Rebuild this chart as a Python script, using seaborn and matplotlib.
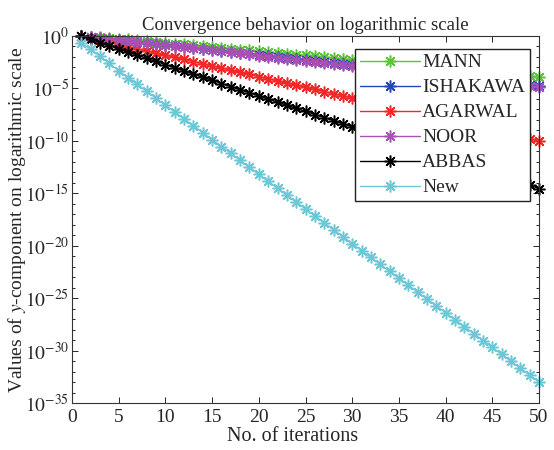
import matplotlib
matplotlib.use("Agg")
import matplotlib.pyplot as plt
import seaborn as sns
import numpy as np
import pandas as pd

iterations = list(range(1, 51))

# log10 of the y-component
mann_log = [0.00, -0.06, -0.12, -0.19, -0.26, -0.33, -0.41, -0.49, -0.57, -0.65,
            -0.73, -0.81, -0.89, -0.97, -1.05, -1.13, -1.21, -1.29, -1.37, -1.45,
            -1.53, -1.61, -1.69, -1.77, -1.85, -1.93, -2.01, -2.09, -2.17, -2.25,
            -2.33, -2.41, -2.49, -2.57, -2.65, -2.73, -2.81, -2.89, -2.97, -3.05,
            -3.14, -3.22, -3.31, -3.39, -3.48, -3.56, -3.65, -3.73, -3.81, -3.90]
ishakawa_log = [-0.02, -0.10, -0.19, -0.28, -0.37, -0.47, -0.56, -0.66, -0.75, -0.85,
                -0.94, -1.04, -1.13, -1.23, -1.32, -1.42, -1.51, -1.61, -1.70, -1.80,
                -1.89, -1.99, -2.08, -2.18, -2.27, -2.37, -2.46, -2.56, -2.65, -2.75,
                -2.84, -2.94, -3.03, -3.13, -3.22, -3.32, -3.41, -3.51, -3.60, -3.70,
                -3.80, -3.90, -4.00, -4.10, -4.20, -4.31, -4.42, -4.53, -4.64, -4.75]
agarwal_log = [0.00, -0.20, -0.41, -0.61, -0.82, -1.02, -1.22, -1.43, -1.63, -1.84,
               -2.04, -2.24, -2.45, -2.65, -2.86, -3.06, -3.27, -3.47, -3.67, -3.88,
               -4.08, -4.29, -4.49, -4.69, -4.90, -5.10, -5.31, -5.51, -5.71, -5.92,
               -6.12, -6.33, -6.53, -6.73, -6.94, -7.14, -7.35, -7.55, -7.76, -7.96,
               -8.16, -8.37, -8.57, -8.78, -8.98, -9.18, -9.39, -9.59, -9.80, -10.00]
noor_log = [0.00, -0.08, -0.17, -0.26, -0.36, -0.46, -0.56, -0.66, -0.76, -0.86,
            -0.96, -1.06, -1.16, -1.26, -1.36, -1.46, -1.56, -1.66, -1.76, -1.86,
            -1.96, -2.06, -2.16, -2.26, -2.36, -2.46, -2.56, -2.66, -2.76, -2.86,
            -2.96, -3.06, -3.16, -3.26, -3.36, -3.46, -3.56, -3.66, -3.76, -3.86,
            -3.96, -4.06, -4.16, -4.26, -4.36, -4.46, -4.56, -4.66, -4.77, -4.88]
abbas_log = [0.00, -0.31, -0.62, -0.92, -1.23, -1.53, -1.83, -2.13, -2.43, -2.73,
             -3.03, -3.33, -3.63, -3.93, -4.23, -4.53, -4.83, -5.12, -5.42, -5.72,
             -6.01, -6.31, -6.60, -6.90, -7.19, -7.49, -7.78, -8.08, -8.37, -8.66,
             -8.96, -9.25, -9.55, -9.84, -10.13, -10.43, -10.72, -11.01, -11.31, -11.60,
             -11.89, -12.19, -12.48, -12.77, -13.07, -13.36, -13.65, -13.95, -14.24, -14.55]
new_log = [-0.70, -1.25, -1.95, -2.62, -3.32, -3.98, -4.62, -5.28, -5.94, -6.62,
           -7.24, -7.90, -8.56, -9.22, -9.88, -10.54, -11.20, -11.86, -12.52, -13.20,
           -13.86, -14.52, -15.18, -15.84, -16.50, -17.16, -17.82, -18.48, -19.14, -19.80,
           -20.46, -21.12, -21.78, -22.44, -23.10, -23.76, -24.42, -25.08, -25.74, -26.40,
           -27.06, -27.72, -28.38, -29.04, -29.70, -30.36, -31.02, -31.68, -32.34, -33.00]

methods = ["MANN", "ISHAKAWA", "AGARWAL", "NOOR", "ABBAS", "New"]
series = [mann_log, ishakawa_log, agarwal_log, noor_log, abbas_log, new_log]
colors = ["#5cc43a", "#2346b8", "#f02828", "#a94fb5", "#000000", "#6cc7d6"]

df = pd.concat([
    pd.DataFrame({"iter": iterations, "value": 10.0 ** np.array(s), "method": m})
    for m, s in zip(methods, series)
])

sns.set_style("ticks")
plt.rcParams["font.family"] = ["Liberation Serif", "DejaVu Serif"]
plt.rcParams["mathtext.fontset"] = "stix"
plt.rcParams["axes.unicode_minus"] = False
plt.rcParams["xtick.direction"] = "in"
plt.rcParams["ytick.direction"] = "in"

fig = plt.figure(figsize=(5.54, 4.5), dpi=100)
ax = fig.add_axes([0.130, 0.1044, 0.843, 0.8156])

star = (8, 2, 0)
for m, c in zip(methods, colors):
    sns.lineplot(data=df[df["method"] == m], x="iter", y="value", ax=ax,
                 color=c, label=m, marker=star, markersize=8.5,
                 markeredgecolor=c, markeredgewidth=1.1, linewidth=1.0,
                 clip_on=False)

ax.set_yscale("log")
ax.set_xlim(0, 50)
ax.set_ylim(1e-35, 1)
ax.set_xticks(range(0, 51, 5))
ax.set_yticks([10.0 ** -k for k in range(0, 36, 5)])
ax.set_yticklabels([r"$10^{%d}$" % -k if k else r"$10^{0}$" for k in range(0, 36, 5)])
ax.yaxis.set_minor_locator(matplotlib.ticker.LogLocator(base=10, subs=(1.0,), numticks=50))
ax.yaxis.set_minor_formatter(matplotlib.ticker.NullFormatter())
ax.tick_params(which="both", top=True, right=True, labelsize=14, length=4, width=0.7)
ax.tick_params(axis="y", pad=2)
ax.tick_params(axis="x", pad=4)
ax.tick_params(which="minor", length=2.5)
for sp in ax.spines.values():
    sp.set_linewidth(0.8)
    sp.set_color("#333333")

ax.set_xlabel("No. of iterations", fontsize=14.5, labelpad=0)
ax.xaxis.set_label_coords(0.473, -0.065)
ax.set_ylabel("Values of $y$-component on logarithmic scale", fontsize=14)
ax.yaxis.set_label_coords(-0.094, 0.5)
ax.set_title("Convergence behavior on logarithmic scale", fontsize=13.5, pad=4)

leg = ax.legend(loc="upper right", bbox_to_anchor=(0.981, 0.965), fontsize=14,
                handlelength=3.1, handletextpad=0.1, labelspacing=0.38,
                borderpad=0.25, borderaxespad=0, fancybox=False, framealpha=1)
leg.get_frame().set_edgecolor("#222222")
leg.get_frame().set_linewidth(1.0)

fig.savefig("out.png", dpi=100)
plt.close(fig)
